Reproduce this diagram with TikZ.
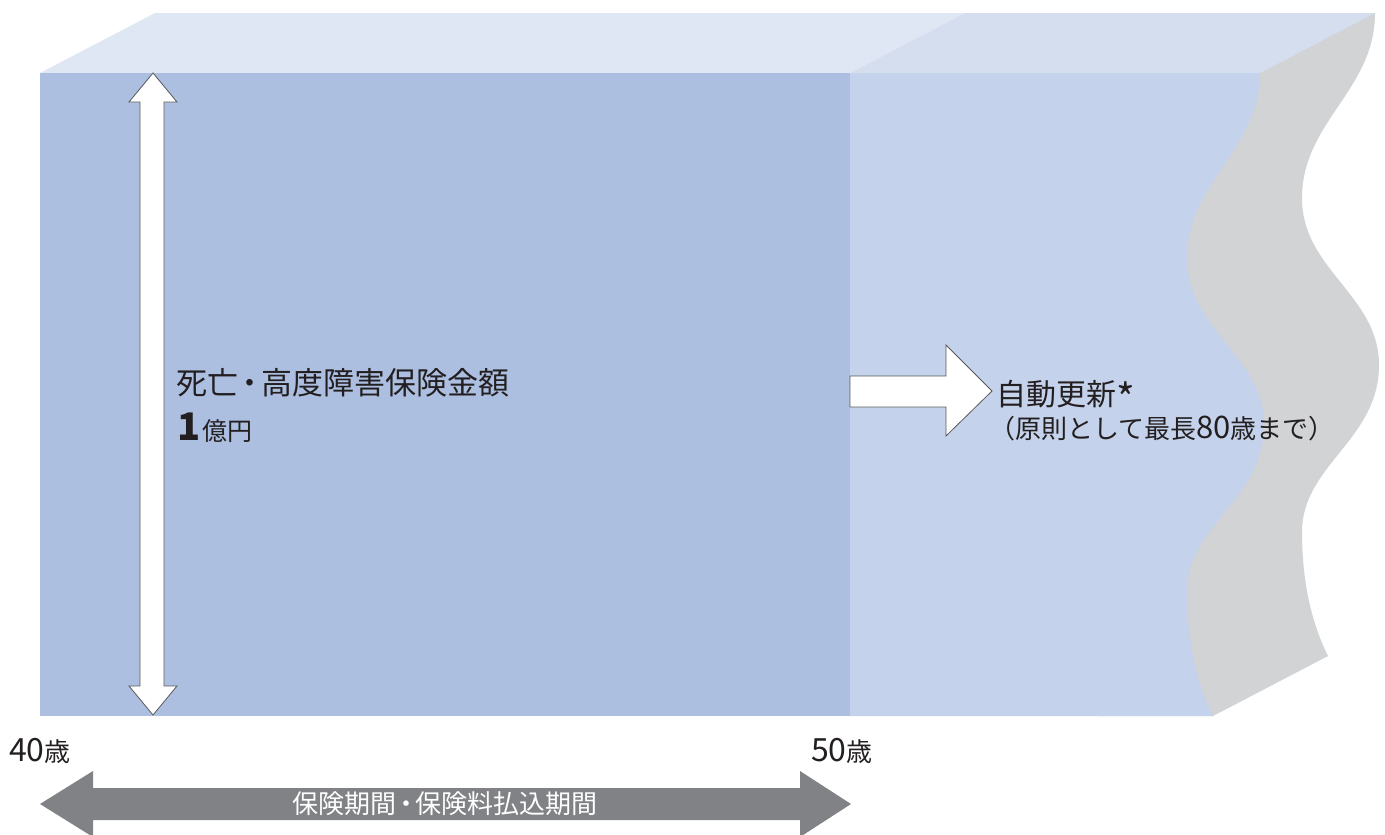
\documentclass[tikz,border=0pt]{standalone}
\usepackage{fontspec}
\setmainfont{Noto Sans CJK JP}
\definecolor{frontdark}{HTML}{ACBFE0}
\definecolor{frontlight}{HTML}{C5D2EB}
\definecolor{topleft}{HTML}{E0E7F4}
\definecolor{topright}{HTML}{D5DEEF}
\definecolor{sidegray}{HTML}{D1D3D5}
\definecolor{arrowgray}{HTML}{808285}
\definecolor{txt}{HTML}{231F20}
\newcommand{\ndot}{\kern-0.12em・\kern-0.12em}
\begin{document}
\begin{tikzpicture}[x=1pt,y=-1pt,
  blockarrow/.style={fill=white,draw=black!65,line width=0.8pt,line join=miter},
  lbl/.style={inner sep=0pt,anchor=base west,text=txt}]
\useasboundingbox (0,0) rectangle (1385,835);
% back (gray side) = shifted copy of the light front face, plus bottom slant
\fill[sidegray,shift={(115,-60)}] (850,73) -- (1260,73)
  .. controls (1260,150) and (1187,182) .. (1187,258)
  .. controls (1187,330) and (1264,355) .. (1264,425)
  .. controls (1264,500) and (1187,525) .. (1187,592)
  .. controls (1187,650) and (1200,690) .. (1213,716)
  -- (850,716) -- cycle;
\fill[sidegray] (1100,655) -- (1328,655) -- (1328,656) -- (1213,716) -- (1100,716) -- cycle;
% top faces
\fill[topleft] (40,73) -- (155,13) -- (965,13) -- (850,73) -- cycle;
\fill[topright] (850,73) -- (965,13) -- (1375,13) -- (1260,73) -- cycle;
% front faces
\fill[frontdark] (40,73) rectangle (850,716);
\fill[frontlight] (850,73) -- (1260,73)
  .. controls (1260,150) and (1187,182) .. (1187,258)
  .. controls (1187,330) and (1264,355) .. (1264,425)
  .. controls (1264,500) and (1187,525) .. (1187,592)
  .. controls (1187,650) and (1200,690) .. (1213,716)
  -- (850,716) -- cycle;
% vertical double arrow
\draw[blockarrow] (153,73) -- (177,102) -- (164,102) -- (164,686) -- (177,686)
  -- (153,715) -- (129,686) -- (140,686) -- (140,102) -- (129,102) -- cycle;
% right arrow
\draw[blockarrow] (850,376) -- (946,376) -- (946,345) -- (992,391) -- (946,436)
  -- (946,407) -- (850,407) -- cycle;
% bottom gray double arrow
\fill[arrowgray] (40,804) -- (93,771) -- (93,788) -- (800,788) -- (800,771)
  -- (851,804) -- (800,837) -- (800,820) -- (93,820) -- (93,837) -- cycle;
% texts
\node[lbl,font=\fontsize{31}{36}\selectfont] (sum) at (176,394) {死亡\ndot 高度障害保険金額};
\node[lbl] (amt) at (177,440) {{\fontsize{38}{40}\selectfont\bfseries 1}\kern2pt{\fontsize{25}{30}\selectfont 億円}};
\node[lbl,font=\fontsize{30}{32}\selectfont] (renew) at (996,405) {自動更新{\fontsize{40}{40}\selectfont\raisebox{-8pt}{*}}};
\node[lbl,font=\fontsize{26}{28}\selectfont] (note) at (989,438) {（原則として最長{\fontsize{31}{31}\selectfont 80}歳まで）};
\node[lbl,font=\fontsize{26}{28}\selectfont] (a40) at (9,761) {{\fontsize{32}{32}\selectfont 40}歳};
\node[lbl,font=\fontsize{26}{28}\selectfont] (a50) at (811,761) {{\fontsize{32}{32}\selectfont 50}歳};
\node[inner sep=0pt,text=white,font=\fontsize{26}{28}\selectfont] (period) at (445,804) {保険期間\ndot 保険料払込期間};
\end{tikzpicture}
\end{document}
